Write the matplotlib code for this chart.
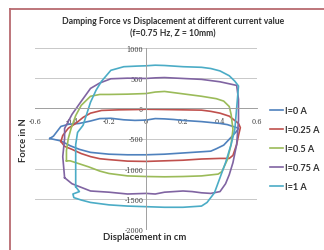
import matplotlib
matplotlib.use("Agg")
import matplotlib.pyplot as plt
from matplotlib.lines import Line2D

labels = ["I=0 A", "I=0.25 A", "I=0.5 A", "I=0.75 A", "I=1 A"]
colors = ["#4F81BD", "#C0504D", "#9BBB59", "#8064A2", "#4BACC6"]

x_i0 = [-0.52, -0.50, -0.46, -0.42, -0.36, -0.30, -0.25, -0.19, -0.12, -0.06, 0.0, 0.05, 0.1, 0.15,
        0.2, 0.25, 0.3, 0.35, 0.4, 0.44, 0.47, 0.50, 0.49, 0.46, 0.42, 0.38, 0.35, 0.3, 0.2, 0.1,
        0.0, -0.1, -0.2, -0.3, -0.36, -0.41, -0.46, -0.52]
y_i0 = [-500, -460, -300, -265, -250, -210, -170, -165, -190, -200, -195, -170, -175, -185,
        -200, -210, -220, -235, -250, -270, -300, -330, -380, -480, -610, -670, -710, -720, -740, -760,
        -770, -770, -760, -730, -680, -620, -540, -500]

x_i025 = [-0.46, -0.45, -0.42, -0.38, -0.34, -0.30, -0.24, -0.15, -0.05, 0.0, 0.1, 0.2, 0.3, 0.35,
          0.4, 0.45, 0.50, 0.51, 0.50, 0.49, 0.47, 0.45, 0.4, 0.3, 0.2, 0.1, 0.0, -0.1, -0.2, -0.25,
          -0.3, -0.35, -0.4, -0.44, -0.46]
y_i025 = [-550, -450, -330, -250, -150, -80, -35, -25, -20, -15, -20, -25, -30, -50,
          -80, -130, -250, -320, -450, -600, -780, -830, -830, -840, -860, -870, -880, -875, -850, -835,
          -800, -750, -680, -630, -550]

x_i05 = [-0.43, -0.43, -0.42, -0.405, -0.38, -0.35, -0.30, -0.25, -0.2, -0.1, 0.0, 0.05, 0.1, 0.15,
         0.2, 0.3, 0.38, 0.42, 0.45, 0.46, 0.47, 0.46, 0.44, 0.41, 0.39, 0.3, 0.2, 0.1, 0.0, -0.1,
         -0.2, -0.25, -0.31, -0.37, -0.41, -0.43]
y_i05 = [-870, -700, -500, -333, -120, 50, 200, 230, 230, 235, 245, 270, 280, 260,
         240, 200, 160, 120, 30, -100, -350, -600, -850, -1050, -1090, -1120, -1130, -1135, -1130, -1120,
         -1080, -1040, -970, -910, -870, -870]

x_i075 = [-0.44, -0.45, -0.44, -0.44, -0.40, -0.35, -0.30, -0.25, -0.19, -0.1, 0.0, 0.05, 0.1, 0.2,
          0.3, 0.4, 0.46, 0.49, 0.50, 0.50, 0.49, 0.47, 0.45, 0.43, 0.40, 0.35, 0.3, 0.25, 0.2, 0.1,
          0.05, 0.0, -0.1, -0.2, -0.25, -0.3, -0.35, -0.4, -0.44]
y_i075 = [-1150, -800, -500, -333, -100, 117, 330, 420, 490, 500, 495, 505, 510, 495,
          480, 440, 400, 380, 150, -200, -600, -900, -1100, -1250, -1380, -1410, -1400, -1380, -1370, -1390,
          -1420, -1410, -1420, -1390, -1380, -1370, -1310, -1250, -1150]

x_i1 = [-0.38, -0.38, -0.38, -0.37, -0.34, -0.30, -0.27, -0.24, -0.19, -0.12, -0.05, 0.0, 0.05, 0.1,
        0.15, 0.2, 0.3, 0.35, 0.4, 0.45, 0.48, 0.50, 0.49, 0.48, 0.46, 0.43, 0.40, 0.37, 0.33, 0.3,
        0.2, 0.1, 0.0, -0.1, -0.2, -0.3, -0.35, -0.39, -0.395, -0.36, -0.38]
y_i1 = [-1300, -900, -600, -400, -280, 100, 300, 450, 630, 690, 700, 705, 715, 710,
        700, 690, 680, 660, 620, 540, 450, 370, 0, -350, -600, -900, -1150, -1400, -1560, -1620,
        -1640, -1640, -1630, -1620, -1600, -1560, -1520, -1480, -1420, -1380, -1300]

series_x = [x_i0, x_i025, x_i05, x_i075, x_i1]
series_y = [y_i0, y_i025, y_i05, y_i075, y_i1]

xticks = [-0.6, -0.4, -0.2, 0, 0.2, 0.4, 0.6]
xtick_labels = ["-0.6", "-0.4", "-0.2", "0", "0.2", "0.4", "0.6"]
yticks = [-2000, -1500, -1000, -500, 0, 500, 1000]
ytick_labels = ["-2000", "-1500", "-1000", "-500", "0", "500", "1000"]

W, H = 324, 251
fig = plt.figure(figsize=(W / 100, H / 100), dpi=100)
fig.patch.set_facecolor("white")

ax = fig.add_axes([35 / W, 1 - 230 / H, 222 / W, 181 / H])
ax.set_xlim(-0.6, 0.6)
ax.set_ylim(-2000, 1000)

for xv, yv, c, lab in zip(series_x, series_y, colors, labels):
    ax.plot(xv, yv, color=c, lw=1.2, label=lab, solid_joinstyle="round")

for t in yticks:
    ax.axhline(t, color="#c8c8c8", lw=0.7, zorder=0)

ax.spines["top"].set_visible(False)
ax.spines["right"].set_visible(False)
ax.spines["left"].set_position(("data", 0))
ax.spines["bottom"].set_position(("data", 0))
ax.spines["left"].set_color("#a0a0a0")
ax.spines["bottom"].set_color("#a0a0a0")
ax.spines["left"].set_linewidth(0.7)
ax.spines["bottom"].set_linewidth(0.7)

ax.set_xticks(xticks)
ax.set_xticklabels(xtick_labels)
ax.set_yticks(yticks)
ax.set_yticklabels(ytick_labels)
ax.tick_params(axis="both", length=0, labelsize=4.8, colors="#404040")
ax.tick_params(axis="x", pad=6)
ax.tick_params(axis="y", pad=2)
for lab in ax.get_xticklabels() + ax.get_yticklabels():
    lab.set_family("DejaVu Serif")

fig.text(173 / W, 1 - 22 / H, "Damping Force vs Displacement at different current value",
         ha="center", va="center", fontsize=6.2, fontweight="bold", family="Lato", color="#303030")
fig.text(173 / W, 1 - 34 / H, "(f=0.75 Hz, Z = 10mm)",
         ha="center", va="center", fontsize=6.2, fontweight="bold", family="Lato", color="#303030")
fig.text(24 / W, 1 - 140 / H, "Force in N", rotation=90, ha="center", va="center",
         fontsize=6.8, fontweight="bold", family="Lato", color="#303030")
fig.text(145 / W, 1 - 238 / H, "Displacement in cm", ha="center", va="center",
         fontsize=6.8, fontweight="bold", family="Lato", color="#303030")

handles = [Line2D([0], [0], color=c, lw=1.2) for c in colors]
leg = fig.legend(handles, labels, loc="upper left", bbox_to_anchor=(270 / W, 1 - 107 / H),
                 frameon=False, handlelength=1.4, handletextpad=0.2,
                 labelspacing=1.1, borderaxespad=0, borderpad=0,
                 prop={"family": "Lato", "weight": "bold", "size": 6.6})
for t in leg.get_texts():
    t.set_color("#303030")

fig.add_artist(Line2D([9.5 / W, 9.5 / W], [0, 1 - 9.5 / H], color="#b86a70", lw=1.3,
                      transform=fig.transFigure))
fig.add_artist(Line2D([9.5 / W, 1], [1 - 9.5 / H, 1 - 9.5 / H], color="#b86a70", lw=1.3,
                      transform=fig.transFigure))

fig.savefig("out.png", dpi=100)
